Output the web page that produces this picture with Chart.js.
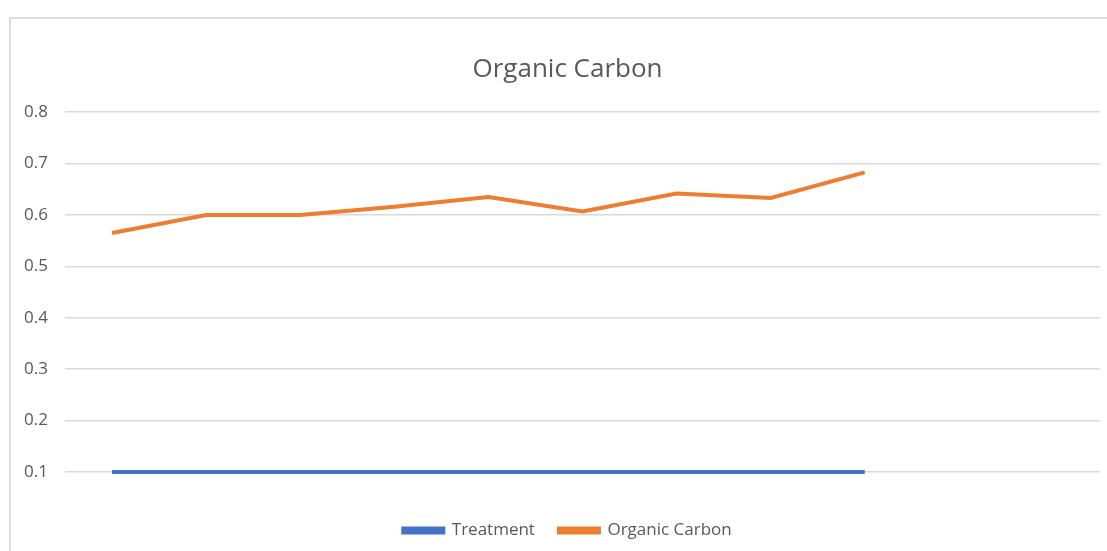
<!DOCTYPE html>
<html>
<head>
<meta charset="utf-8">
<script src="https://cdn.jsdelivr.net/npm/chart.js@4.4.1/dist/chart.umd.min.js"></script>
<style>
  html, body { margin: 0; padding: 0; background: #ffffff; }
  body { width: 1107px; height: 551px; position: relative; overflow: hidden; }
  #frame {
    position: absolute; left: 9px; top: 17px; width: 1098px; height: 534px;
    border-left: 2px solid #dcdcdc; border-top: 2px solid #dcdcdc;
    box-sizing: border-box; background: #ffffff; overflow: hidden;
  }
  #wrap { position: absolute; left: 0; top: 0; width: 1120px; height: 532px; }
</style>
</head>
<body>
<div id="frame"><div id="wrap"><canvas id="c"></canvas></div></div>
<script>
// ---- data ----
const chartTitle = 'Organic Carbon';
const categories = ['1', '2', '3', '4', '5', '6', '7', '8', '9', '10', '11'];
const treatment = [0.1, 0.1, 0.1, 0.1, 0.1, 0.1, 0.1, 0.1, 0.1];
const organicCarbon = [0.565, 0.60, 0.60, 0.616, 0.635, 0.607, 0.642, 0.633, 0.683];
const seriesNames = ['Treatment', 'Organic Carbon'];
const yTicks = [0.1, 0.2, 0.3, 0.4, 0.5, 0.6, 0.7, 0.8];

const textColor = '#595959';
const fontFamily = "'Open Sans', 'Liberation Sans', sans-serif";

new Chart(document.getElementById('c'), {
  type: 'line',
  data: {
    labels: categories,
    datasets: [
      {
        label: seriesNames[0],
        data: treatment,
        borderColor: '#4472C4',
        backgroundColor: '#4472C4',
        borderWidth: 4,
        pointRadius: 0,
        tension: 0,
        clip: false
      },
      {
        label: seriesNames[1],
        data: organicCarbon,
        borderColor: '#ED7D31',
        backgroundColor: '#ED7D31',
        borderWidth: 4,
        pointRadius: 0,
        tension: 0,
        clip: false
      }
    ]
  },
  options: {
    responsive: true,
    maintainAspectRatio: false,
    animation: false,
    events: [],
    layout: { padding: { left: 0, right: 7, top: 0, bottom: 2 } },
    plugins: {
      title: {
        display: true,
        text: chartTitle,
        color: textColor,
        font: { family: fontFamily, size: 26, weight: 'normal' },
        padding: { top: 35, bottom: 27 }
      },
      legend: {
        display: true,
        position: 'bottom',
        labels: {
          color: textColor,
          font: { family: fontFamily, size: 17 },
          boxWidth: 40,
          boxHeight: 4,
          padding: 24
        }
      },
      tooltip: { enabled: false }
    },
    scales: {
      x: {
        type: 'category',
        offset: true,
        display: true,
        grid: { display: false },
        border: { display: false },
        ticks: { display: false },
        afterFit: (s) => { s.height = 26; }
      },
      y: {
        min: yTicks[0],
        max: yTicks[yTicks.length - 1],
        afterBuildTicks: (s) => { s.ticks = yTicks.map(v => ({ value: v })); },
        afterFit: (s) => { s.width = 54; },
        grid: { color: '#d9d9d9', lineWidth: 1.5, drawTicks: false },
        border: { display: false },
        ticks: {
          color: textColor,
          font: { family: fontFamily, size: 17 },
          padding: 17,
          callback: (v) => Number(v).toFixed(1)
        }
      },
      yRight: {
        type: 'linear',
        position: 'right',
        display: true,
        grid: { display: false },
        border: { display: false },
        ticks: { display: false },
        afterFit: (s) => { s.width = 24; }
      }
    }
  }
});
</script>
</body>
</html>
